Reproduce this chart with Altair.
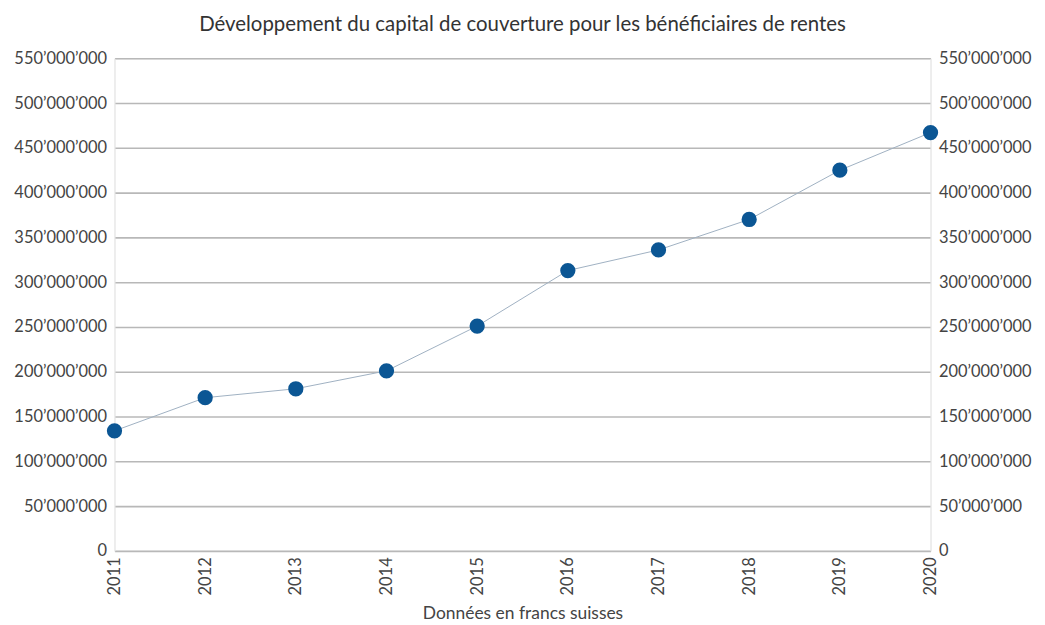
import altair as alt
import pandas as pd

years = [2011, 2012, 2013, 2014, 2015, 2016, 2017, 2018, 2019, 2020]
capital = [134000000, 171000000, 181000000, 201000000, 251000000,
           313000000, 336000000, 370000000, 425000000, 467000000]

df = pd.DataFrame({"year": years, "capital": capital})

FONT = "Lato"
LSIZE = 16.5
ymax = 550000000
yticks = list(range(0, ymax + 1, 50000000))
lbl = "replace(format(datum.value, ',d'), regexp(',', 'g'), '\u2019')"

xenc = alt.X("year:Q", scale=alt.Scale(domain=[2011, 2020], nice=False, zero=False),
             axis=alt.Axis(values=years, format="d", labelAngle=270, grid=False,
                           domain=False, ticks=False, labelPadding=6,
                           labelFontSize=LSIZE, labelColor="#444", labelFont=FONT,
                           title="Données en francs suisses", titleFontSize=17.5,
                           titleFont=FONT, titleColor="#444", titleFontWeight="normal",
                           titlePadding=10))

yscale = alt.Scale(domain=[0, ymax], nice=False)
yleft = alt.Y("capital:Q", scale=yscale,
              axis=alt.Axis(values=yticks, labelExpr=lbl, grid=True, gridColor="#b8b8b8",
                            gridWidth=1.6, domain=True, domainColor="#eeeeee", ticks=False,
                            labelPadding=8, labelFontSize=LSIZE, labelColor="#444",
                            labelFont=FONT, title=None, orient="left"))
yright = alt.Y("capital:Q", scale=yscale,
               axis=alt.Axis(values=yticks, labelExpr=lbl, grid=False, domain=True,
                             domainColor="#eeeeee", ticks=False, labelPadding=8,
                             labelFontSize=LSIZE, labelColor="#444", labelFont=FONT,
                             title=None, orient="right"))

base = alt.Chart(df)

line = base.mark_line(color="#9fb0c2", strokeWidth=1).encode(x=xenc, y=yleft)
points = base.mark_circle(size=235, color="#0b5694", opacity=1).encode(x=xenc, y=yleft)
right = base.mark_line(opacity=0).encode(x=xenc, y=yright)

left_layer = alt.layer(line, points)
chart = alt.layer(left_layer, right).resolve_scale(y="independent").properties(
    width=820, height=495,
    title=alt.TitleParams("Développement du capital de couverture pour les bénéficiaires de rentes",
                          fontSize=20.5, font=FONT, color="#333", fontWeight="normal",
                          anchor="middle", offset=15),
).configure_view(strokeWidth=0).configure(background="white")

chart.save("out.html", embed_options={"renderer": "svg", "actions": False})
